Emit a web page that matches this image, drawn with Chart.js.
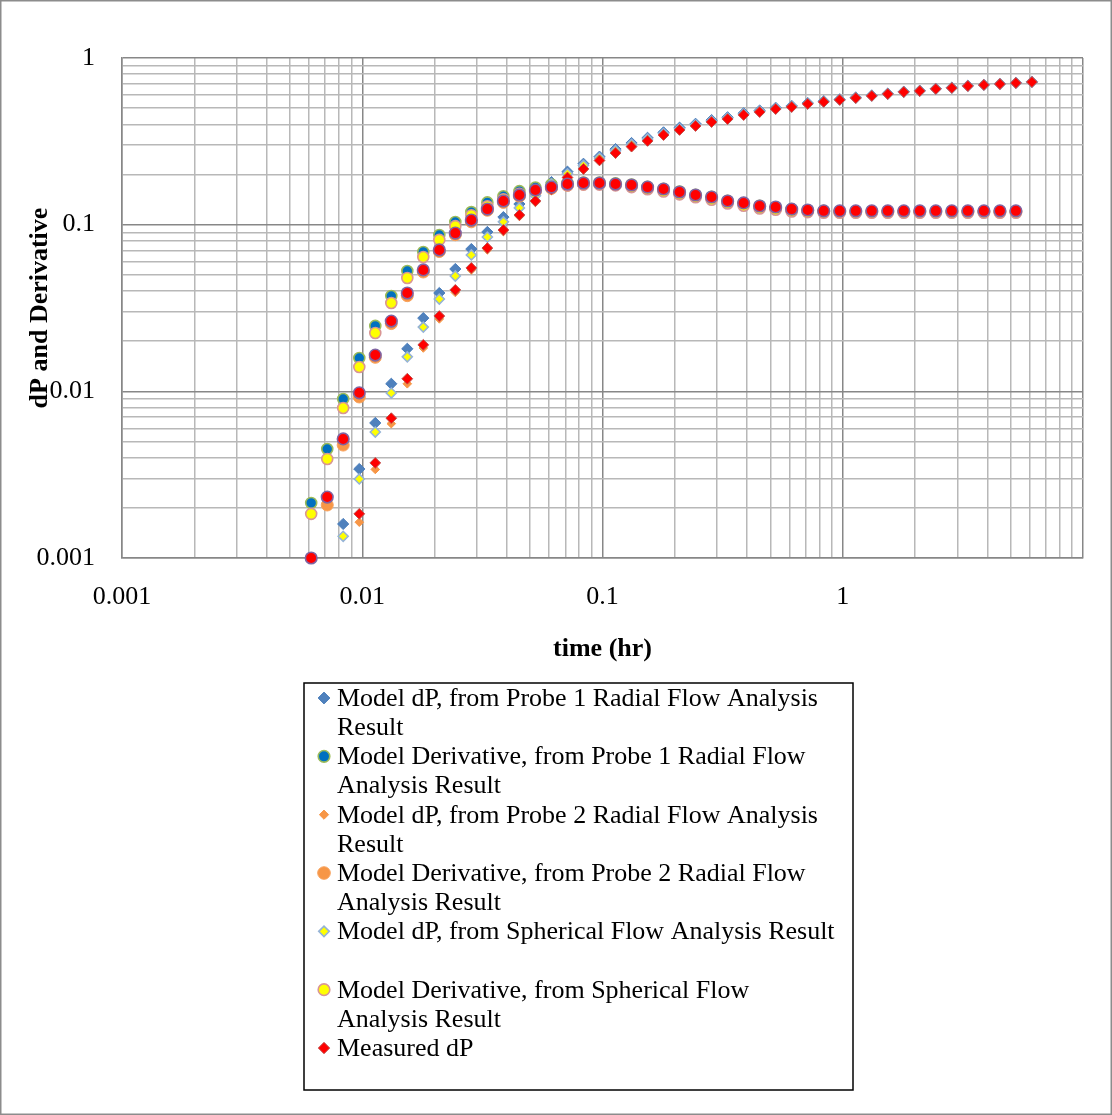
<!DOCTYPE html>
<html>
<head>
<meta charset="utf-8">
<title>dP and Derivative vs time</title>
<script src="https://cdn.jsdelivr.net/npm/chart.js@4/dist/chart.umd.min.js"></script>
<style>
  html, body { margin: 0; padding: 0; background: #ffffff; }
  #wrap { width: 1112px; height: 1115px; position: relative; }
</style>
</head>
<body>
<div id="wrap"><canvas id="chart"></canvas></div>
<script>
// ---- data -------------------------------------------------------------
const timeHr = [0.00613, 0.00715, 0.00833, 0.00972, 0.01133, 0.01321, 0.0154, 0.01795, 0.02093, 0.0244,
  0.02845, 0.03317, 0.03868, 0.0451, 0.05257, 0.0613, 0.07147, 0.08332, 0.09716, 0.1133,
  0.1321, 0.154, 0.1795, 0.2093, 0.244, 0.2845, 0.3317, 0.3868, 0.451, 0.5257,
  0.613, 0.7147, 0.8332, 0.9716, 1.133, 1.321, 1.54, 1.795, 2.093, 2.44,
  2.845, 3.317, 3.868, 4.51, 5.257, 6.13];

const modelDpProbe1 = [null, null, 0.0016, 0.00342, 0.00646, 0.0111, 0.018, 0.0275, 0.0389, 0.0542,
  0.0714, 0.0904, 0.111, 0.133, 0.157, 0.18, 0.208, 0.232, 0.256, 0.284,
  0.309, 0.332, 0.358, 0.382, 0.403, 0.424, 0.441, 0.466, 0.484, 0.503,
  0.516, 0.537, 0.551, 0.565, 0.58, 0.596, 0.612, 0.628, 0.637, 0.655,
  0.664, 0.682, 0.691, 0.7, 0.71, 0.72];

const modelDerivProbe1 = [0.00214, 0.00451, 0.009, 0.01585, 0.0247, 0.0373, 0.0527, 0.0686, 0.0867, 0.1038,
  0.119, 0.136, 0.148, 0.159, 0.167, 0.174, 0.178, 0.179, 0.179, 0.177,
  0.174, 0.169, 0.164, 0.158, 0.151, 0.147, 0.139, 0.135, 0.13, 0.127,
  0.124, 0.122, 0.121, 0.12, 0.12, 0.12, 0.12, 0.12, 0.12, 0.12,
  0.12, 0.12, 0.12, 0.12, 0.12, null];

const modelDpProbe2 = [null, null, null, 0.00164, 0.0034, 0.0064, 0.0111, 0.0182, 0.0272, 0.0392,
  0.0535, 0.0706, 0.0908, 0.112, 0.136, 0.16, 0.189, 0.213, 0.24, 0.266,
  0.291, 0.315, 0.342, 0.367, 0.388, 0.41, 0.428, 0.453, 0.472, 0.492,
  0.506, 0.528, 0.544, 0.559, 0.574, 0.591, 0.607, 0.624, 0.633, 0.651,
  0.66, 0.678, 0.688, 0.697, 0.707, 0.717];

const modelDerivProbe2 = [null, 0.00208, 0.00476, 0.00925, 0.016, 0.0255, 0.0375, 0.052, 0.069, 0.087,
  0.104, 0.122, 0.136, 0.148, 0.158, 0.165, 0.172, 0.175, 0.176, 0.174,
  0.171, 0.166, 0.161, 0.155, 0.149, 0.144, 0.137, 0.133, 0.128, 0.125,
  0.122, 0.121, 0.12, 0.119, 0.119, 0.119, 0.119, 0.119, 0.119, 0.119,
  0.119, 0.119, 0.119, 0.119, 0.119, null];

const modelDpSpherical = [null, null, 0.00135, 0.00298, 0.0057, 0.00977, 0.0161, 0.0243, 0.0358, 0.0492,
  0.0658, 0.0843, 0.104, 0.126, 0.149, 0.175, 0.202, 0.227, 0.251, 0.278,
  0.303, 0.327, 0.352, 0.376, 0.397, 0.418, 0.436, 0.46, 0.479, 0.498,
  0.512, 0.533, 0.548, 0.562, 0.577, 0.594, 0.61, 0.626, 0.635, 0.653,
  0.662, 0.68, 0.69, 0.699, 0.709, 0.719];

const modelDerivSpherical = [0.00184, 0.00393, 0.00794, 0.014, 0.0224, 0.0339, 0.0479, 0.064, 0.081, 0.098,
  0.114, 0.129, 0.142, 0.153, 0.161, 0.168, 0.172, 0.174, 0.174, 0.172,
  0.168, 0.163, 0.158, 0.152, 0.146, 0.141, 0.134, 0.13, 0.125, 0.123,
  0.12, 0.119, 0.118, 0.118, 0.118, 0.118, 0.118, 0.118, 0.118, 0.118,
  0.118, 0.118, 0.118, 0.118, 0.118, null];

const measuredDp = [null, null, null, 0.00184, 0.00372, 0.0069, 0.0119, 0.019, 0.0283, 0.0406,
  0.055, 0.0724, 0.0929, 0.1143, 0.1387, 0.163, 0.192, 0.216, 0.243, 0.269,
  0.294, 0.318, 0.345, 0.37, 0.391, 0.413, 0.43, 0.455, 0.474, 0.494,
  0.508, 0.53, 0.545, 0.56, 0.575, 0.592, 0.608, 0.625, 0.634, 0.652,
  0.661, 0.679, 0.689, 0.698, 0.708, 0.718];

const measuredDeriv = [0.001, 0.00232, 0.00518, 0.0098, 0.0165, 0.0264, 0.0389, 0.0535, 0.0705, 0.089,
  0.1066, 0.124, 0.1387, 0.1507, 0.1614, 0.168, 0.1754, 0.1778, 0.1778, 0.1754,
  0.173, 0.168, 0.1637, 0.157, 0.1507, 0.1466, 0.1387, 0.135, 0.1294, 0.1276,
  0.124, 0.1225, 0.121, 0.121, 0.121, 0.121, 0.121, 0.121, 0.121, 0.121,
  0.121, 0.121, 0.121, 0.121, 0.121, null];

const xTickLabels = ['0.001', '0.01', '0.1', '1'];
const yTickLabels = ['0.001', '0.01', '0.1', '1'];

const seriesNames = [
  'Model dP, from Probe 1 Radial Flow Analysis Result',
  'Model Derivative, from Probe 1 Radial Flow Analysis Result',
  'Model dP, from Probe 2 Radial Flow Analysis Result',
  'Model Derivative, from Probe 2 Radial Flow Analysis Result',
  'Model dP, from Spherical Flow Analysis Result',
  'Model Derivative, from Spherical Flow Analysis Result',
  'Measured dP',
  'Measured Derivative'
];

// legend text, broken into the rows it occupies in the box
const legendRows = [
  ['Model dP, from Probe 1 Radial Flow Analysis', 'Result'],
  ['Model Derivative, from Probe 1 Radial Flow', 'Analysis Result'],
  ['Model dP, from Probe 2 Radial Flow Analysis', 'Result'],
  ['Model Derivative, from Probe 2 Radial Flow', 'Analysis Result'],
  ['Model dP, from Spherical Flow Analysis Result'],
  ['Model Derivative, from Spherical Flow', 'Analysis Result'],
  ['Measured dP'],
  null
];

// ---- styling ----------------------------------------------------------
const FONT = '"Liberation Serif", "Times New Roman", Times, serif';
const TEXT_SIZE = 26;

const markerStyles = [
  { shape: 'rectRot', r: 5.6, fill: '#4F81BD', stroke: '#4A7EBB', bw: 1 },
  { shape: 'circle',  r: 5.5, fill: '#0070C0', stroke: '#9BBB59', bw: 1.6 },
  { shape: 'rectRot', r: 4.3, fill: '#F79646', stroke: '#F79646', bw: 1 },
  { shape: 'circle',  r: 6,   fill: '#F79646', stroke: '#F8A35E', bw: 1 },
  { shape: 'rectRot', r: 5,   fill: '#FFFF00', stroke: '#95B3D7', bw: 1.6 },
  { shape: 'circle',  r: 5.5, fill: '#FFFF00', stroke: '#D99694', bw: 1.6 },
  { shape: 'rectRot', r: 5.4, fill: '#FF0000', stroke: '#C0504D', bw: 1 },
  { shape: 'circle',  r: 5.8, fill: '#FF0000', stroke: '#8064A2', bw: 1.6 }
];

const seriesValues = [modelDpProbe1, modelDerivProbe1, modelDpProbe2, modelDerivProbe2,
  modelDpSpherical, modelDerivSpherical, measuredDp, measuredDeriv];

const toPoints = ys => timeHr.map((t, i) => (ys[i] == null ? null : { x: t, y: ys[i] })).filter(Boolean);

const datasets = seriesValues.map((ys, i) => {
  const s = markerStyles[i];
  return {
    label: seriesNames[i],
    data: toPoints(ys),
    showLine: false,
    pointStyle: s.shape,
    pointRadius: s.r,
    pointHoverRadius: s.r,
    pointBackgroundColor: s.fill,
    pointBorderColor: s.stroke,
    pointBorderWidth: s.bw,
    backgroundColor: s.fill,
    borderColor: s.stroke,
    order: seriesValues.length - i,   // later series sit on top
    clip: false
  };
});

// log grid: 1..9 x 10^e for each decade, closing with the top power
function logGrid(e0, e1) {
  const out = [];
  for (let e = e0; e < e1; e++) {
    for (let m = 1; m <= 9; m++) out.push(Number((m * Math.pow(10, e)).toPrecision(12)));
  }
  out.push(Math.pow(10, e1));
  return out;
}
const isDecade = v => Math.abs(Math.log10(v) - Math.round(Math.log10(v))) < 1e-9;
const labelFor = (v, labels) => {
  const hit = labels.find(l => Math.abs(Number(l) - v) <= 1e-9 * Math.max(1, v));
  return hit === undefined ? '' : hit;
};

const MAJOR = '#878787';
const MINOR = '#b8b8b8';
const gridColor = ctx => (ctx.tick && isDecade(ctx.tick.value) ? MAJOR : MINOR);

// page background and outer frame
const framePlugin = {
  id: 'frame',
  beforeDraw(chart) {
    const c = chart.ctx;
    c.save();
    c.fillStyle = '#ffffff';
    c.fillRect(0, 0, chart.width, chart.height);
    c.restore();
  },
  afterDraw(chart) {
    const c = chart.ctx;
    c.save();
    c.strokeStyle = '#8c8c8c';
    c.lineWidth = 1.5;
    c.strokeRect(0.75, 0.75, chart.width - 1.5, chart.height - 1.5);
    c.restore();
  }
};

function drawMarker(c, s, x, y, r) {
  c.beginPath();
  if (s.shape === 'circle') {
    c.arc(x, y, r, 0, Math.PI * 2);
  } else {
    c.moveTo(x - r, y); c.lineTo(x, y - r); c.lineTo(x + r, y); c.lineTo(x, y + r); c.closePath();
  }
  c.fillStyle = s.fill;
  c.fill();
  if (s.bw > 0) { c.lineWidth = s.bw; c.strokeStyle = s.stroke; c.stroke(); }
}

// boxed legend with wrapped entries below the x-axis title
const boxLegend = {
  id: 'boxLegend',
  afterDraw(chart) {
    const c = chart.ctx;
    const box = { left: 304, top: 683, right: 853, bottom: 1090 };
    const firstRow = 698, rowH = 29.17, entryH = 2 * rowH;
    c.save();
    c.fillStyle = '#ffffff';
    c.fillRect(box.left, box.top, box.right - box.left, box.bottom - box.top);
    c.strokeStyle = '#000000';
    c.lineWidth = 1.5;
    c.strokeRect(box.left, box.top, box.right - box.left, box.bottom - box.top);
    c.font = TEXT_SIZE + 'px ' + FONT;
    c.textBaseline = 'middle';
    c.textAlign = 'left';
    let k = 0;
    legendRows.forEach((rows, i) => {
      if (!rows) return;
      const y0 = firstRow + k * entryH;
      const s = markerStyles[i];
      drawMarker(c, s, 324, y0, s.r + 0.3);
      c.fillStyle = '#000000';
      rows.forEach((t, j) => c.fillText(t, 337, y0 + j * rowH + 1));
      k++;
    });
    c.restore();
  }
};

new Chart(document.getElementById('chart'), {
  type: 'scatter',
  data: { datasets },
  options: {
    responsive: true,
    maintainAspectRatio: false,
    animation: false,
    events: [],
    layout: { padding: { left: 10, top: 58, right: 29, bottom: 447 } },
    plugins: { legend: { display: false }, tooltip: { enabled: false } },
    scales: {
      x: {
        type: 'logarithmic',
        min: 0.001,
        max: 10,
        afterBuildTicks: sc => { sc.ticks = logGrid(-3, 1).map(v => ({ value: v })); },
        afterFit: sc => { sc.height = 110; },
        ticks: {
          autoSkip: false, maxRotation: 0, minRotation: 0, padding: 24, color: '#000000',
          font: { family: FONT, size: TEXT_SIZE },
          callback: v => labelFor(v, xTickLabels)
        },
        grid: { color: gridColor, lineWidth: 1.5, drawTicks: false },
        border: { display: true, color: MAJOR, width: 1.5 },
        title: {
          display: true, text: 'time (hr)', color: '#000000',
          font: { family: FONT, size: TEXT_SIZE, weight: 'bold' },
          padding: { top: 0, bottom: 3 }
        }
      },
      y: {
        type: 'logarithmic',
        min: 0.001,
        max: 1,
        afterBuildTicks: sc => { sc.ticks = logGrid(-3, 0).map(v => ({ value: v })); },
        afterFit: sc => { sc.width = 112; },
        ticks: {
          autoSkip: false, padding: 27, color: '#000000',
          font: { family: FONT, size: TEXT_SIZE },
          callback: v => labelFor(v, yTickLabels)
        },
        grid: { color: gridColor, lineWidth: 1.5, drawTicks: false },
        border: { display: true, color: MAJOR, width: 1.5 },
        title: {
          display: true, text: 'dP and Derivative', color: '#000000',
          font: { family: FONT, size: TEXT_SIZE, weight: 'bold' },
          padding: { top: 15, bottom: 0 }
        }
      }
    }
  },
  plugins: [framePlugin, boxLegend]
});
</script>
</body>
</html>
